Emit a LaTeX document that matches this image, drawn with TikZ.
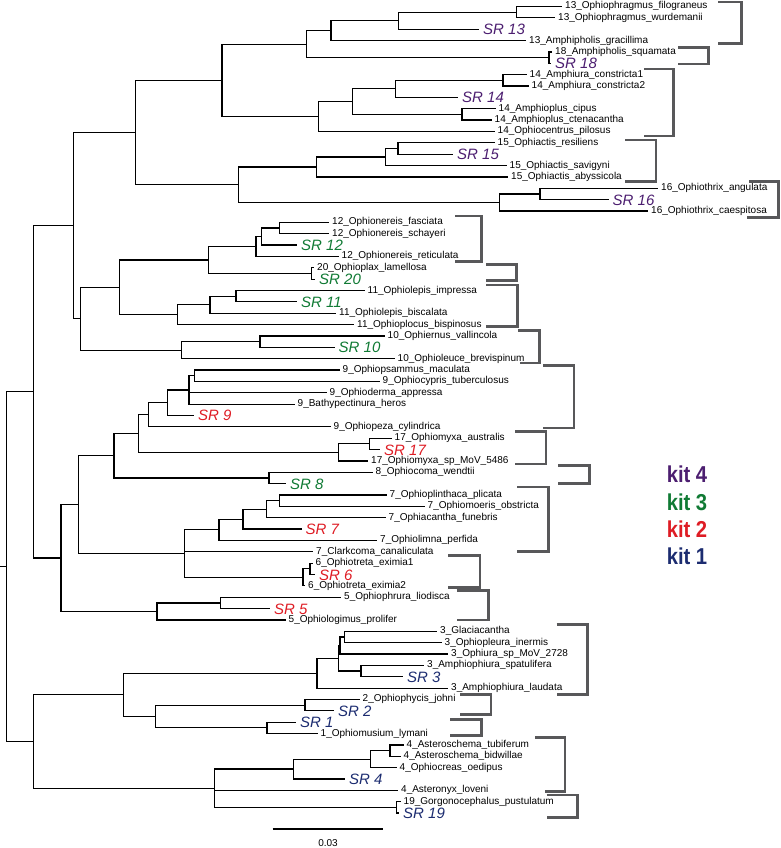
\documentclass[tikz,border=0pt]{standalone}
\usepackage{fontspec}
\setmainfont{Liberation Sans}
\newfontfamily\kitfont{Liberation Sans}[FakeStretch = 0.88]

\definecolor{kitfour}{RGB}{76,30,112}
\definecolor{kitthree}{RGB}{16,122,52}
\definecolor{kittwo}{RGB}{222,28,36}
\definecolor{kitone}{RGB}{28,44,112}
\definecolor{bracketgray}{RGB}{88,88,90}

% vertical position of tip number #1 (fractional for inner nodes)
\newcommand{\ly}[1]{6.5 + (#1 - 1) * 11.36}

\tikzset{
	branch/.style = {line width = 1.2pt, black},
	taxon/.style = {anchor = west, inner xsep = 3pt, inner ysep = 0pt, font = \fontsize{10}{10}\selectfont, text height = 7pt, text depth = 2pt},
	srlabel/.style = {anchor = west, inner xsep = 4pt, inner ysep = 0pt, font = \fontsize{15}{15}\selectfont\itshape, text height = 11pt, text depth = 0pt},
	kitlabel/.style = {inner sep = 0pt, font = \kitfont\bfseries\fontsize{23}{23}\selectfont},
	bracket/.style = {line width = 2.8pt, bracketgray}
}

\begin{document}
\begin{tikzpicture}[x = 1pt, y = -1pt]

	\useasboundingbox (0, 0) rectangle (780, 848);

	% Backbone
	
	\coordinate (rootstub) at (0, {\ly{50.31}});
	\coordinate (root) at (6.8, {\ly{50.31}});
	\coordinate (A) at (33.3, {\ly{34.92}});
	\coordinate (Z) at (33.3, {\ly{65.70}});
	\coordinate (B) at (73.6, {\ly{20.29}});
	\coordinate (C) at (61.0, {\ly{49.55}});
	\coordinate (D) at (135.5, {\ly{12.09}});
	\coordinate (E) at (80.3, {\ly{28.48}});
	
	\draw [branch] (rootstub) -- (root) (root) |- (A) (root) |- (Z);
	\draw [branch] (A) |- (B) (A) |- (C) (B) |- (D) (B) |- (E);
	
	% Kit 4 clade, inner nodes
	
	\coordinate (F) at (222.0, {\ly{7.5}});
	\coordinate (G) at (238.5, {\ly{16.6875}});
	\coordinate (H) at (306.5, {\ly{4.3125}});
	\coordinate (I) at (318.4, {\ly{10.6875}});
	\coordinate (J) at (331.0, {\ly{3.125}});
	\coordinate (L) at (398.5, {\ly{2.25}});
	\coordinate (M) at (516.5, {\ly{1.5}});
	\coordinate (K18) at (549.0, {\ly{5.5}});
	\coordinate (N) at (352.5, {\ly{9.375}});
	\coordinate (O) at (395.5, {\ly{8.25}});
	\coordinate (P) at (462.0, {\ly{10.5}});
	\coordinate (Q) at (503.0, {\ly{7.5}});
	\coordinate (n15a) at (398.0, {\ly{13.5}});
	\coordinate (n15b) at (385.6, {\ly{14.25}});
	\coordinate (n15c) at (316.3, {\ly{15.125}});
	\coordinate (n16a) at (540.0, {\ly{17.5}});
	\coordinate (n16) at (499.5, {\ly{18.25}});
	
	% Kit 4 clade, tips
	
	\node [taxon] (filograneus) at (562, {\ly{1}}) {13\_Ophiophragmus\_filograneus};
	\node [taxon] (wurdemanii) at (555, {\ly{2}}) {13\_Ophiophragmus\_wurdemanii};
	\node [srlabel, text = kitfour] (sr13) at (479, {\ly{3}}) {SR 13};
	\node [taxon] (gracillima) at (526, {\ly{4}}) {13\_Amphipholis\_gracillima};
	\node [taxon] (squamata) at (552, {\ly{5}}) {18\_Amphipholis\_squamata};
	\node [srlabel, text = kitfour] (sr18) at (551, {\ly{6}}) {SR 18};
	\node [taxon] (constricta1) at (526.5, {\ly{7}}) {14\_Amphiura\_constricta1};
	\node [taxon] (constricta2) at (528.5, {\ly{8}}) {14\_Amphiura\_constricta2};
	\node [srlabel, text = kitfour] (sr14) at (458, {\ly{9}}) {SR 14};
	\node [taxon] (cipus) at (495.5, {\ly{10}}) {14\_Amphioplus\_cipus};
	\node [taxon] (ctenacantha) at (491.5, {\ly{11}}) {14\_Amphioplus\_ctenacantha};
	\node [taxon] (pilosus) at (494.5, {\ly{12}}) {14\_Ophiocentrus\_pilosus};
	\node [taxon] (resiliens) at (494.5, {\ly{13}}) {15\_Ophiactis\_resiliens};
	\node [srlabel, text = kitfour] (sr15) at (453, {\ly{14}}) {SR 15};
	\node [taxon] (savigyni) at (506.5, {\ly{15}}) {15\_Ophiactis\_savigyni};
	\node [taxon] (abyssicola) at (508, {\ly{16}}) {15\_Ophiactis\_abyssicola};
	\node [taxon] (angulata) at (658, {\ly{17}}) {16\_Ophiothrix\_angulata};
	\node [srlabel, text = kitfour] (sr16) at (608.5, {\ly{18}}) {SR 16};
	\node [taxon] (caespitosa) at (648, {\ly{19}}) {16\_Ophiothrix\_caespitosa};
	
	\draw [branch] (D) |- (F) (D) |- (G) (F) |- (H) (F) |- (I);
	\draw [branch] (H) |- (J) (H) |- (K18) (J) |- (L) (J) |- (gracillima);
	\draw [branch] (L) |- (M) (L) |- (sr13) (M) |- (filograneus) (M) |- (wurdemanii);
	\draw [branch] (K18) |- (squamata) (K18) |- (sr18);
	\draw [branch] (I) |- (N) (I) |- (pilosus) (N) |- (O) (N) |- (P);
	\draw [branch] (O) |- (Q) (O) |- (sr14) (Q) |- (constricta1) (Q) |- (constricta2);
	\draw [branch] (P) |- (cipus) (P) |- (ctenacantha);
	\draw [branch] (G) |- (n15c) (G) |- (n16) (n15c) |- (n15b) (n15c) |- (abyssicola);
	\draw [branch] (n15b) |- (n15a) (n15b) |- (savigyni) (n15a) |- (resiliens) (n15a) |- (sr15);
	\draw [branch] (n16) |- (n16a) (n16) |- (caespitosa) (n16a) |- (angulata) (n16a) |- (sr16);
	
	% Kit 3 clade
	
	\coordinate (n1211) at (119.4, {\ly{25.72}});
	\coordinate (n12d) at (208.2, {\ly{23.3125}});
	\coordinate (n12c) at (256.0, {\ly{22.125}});
	\coordinate (n12b) at (261.5, {\ly{21.25}});
	\coordinate (n12a) at (279.5, {\ly{20.5}});
	\coordinate (n20) at (311.5, {\ly{24.5}});
	\coordinate (n11c) at (177.8, {\ly{28.125}});
	\coordinate (n11b) at (210.0, {\ly{27.25}});
	\coordinate (n11a) at (236.0, {\ly{26.5}});
	\coordinate (n10b) at (181.7, {\ly{31.25}});
	\coordinate (n10a) at (260.0, {\ly{30.5}});
	
	\node [taxon] (fasciata) at (329, {\ly{20}}) {12\_Ophionereis\_fasciata};
	\node [taxon] (schayeri) at (329, {\ly{21}}) {12\_Ophionereis\_schayeri};
	\node [srlabel, text = kitthree] (sr12) at (297, {\ly{22}}) {SR 12};
	\node [taxon] (reticulata) at (338.5, {\ly{23}}) {12\_Ophionereis\_reticulata};
	\node [taxon] (lamellosa) at (314, {\ly{24}}) {20\_Ophioplax\_lamellosa};
	\node [srlabel, text = kitthree] (sr20) at (315, {\ly{25}}) {SR 20};
	\node [taxon] (impressa) at (364.5, {\ly{26}}) {11\_Ophiolepis\_impressa};
	\node [srlabel, text = kitthree] (sr11) at (297, {\ly{27}}) {SR 11};
	\node [taxon] (biscalata) at (336, {\ly{28}}) {11\_Ophiolepis\_biscalata};
	\node [taxon] (bispinosus) at (354, {\ly{29}}) {11\_Ophioplocus\_bispinosus};
	\node [taxon] (vallincola) at (384.5, {\ly{30}}) {10\_Ophiernus\_vallincola};
	\node [srlabel, text = kitthree] (sr10) at (334.5, {\ly{31}}) {SR 10};
	\node [taxon] (brevispinum) at (394.5, {\ly{32}}) {10\_Ophioleuce\_brevispinum};
	
	\draw [branch] (E) |- (n1211) (E) |- (n10b) (n1211) |- (n12d) (n1211) |- (n11c);
	\draw [branch] (n12d) |- (n12c) (n12d) |- (n20) (n12c) |- (n12b) (n12c) |- (reticulata);
	\draw [branch] (n12b) |- (n12a) (n12b) |- (sr12) (n12a) |- (fasciata) (n12a) |- (schayeri);
	\draw [branch] (n20) |- (lamellosa) (n20) |- (sr20);
	\draw [branch] (n11c) |- (n11b) (n11c) |- (bispinosus) (n11b) |- (n11a) (n11b) |- (biscalata);
	\draw [branch] (n11a) |- (impressa) (n11a) |- (sr11);
	\draw [branch] (n10b) |- (n10a) (n10b) |- (brevispinum) (n10a) |- (vallincola) (n10a) |- (sr10);
	
	% Kit 2 clade and its neighbours
	
	\coordinate (n987) at (78.2, {\ly{44.85}});
	\coordinate (n98) at (114.0, {\ly{40.547}});
	\coordinate (n9e) at (138.3, {\ly{38.594}});
	\coordinate (n9d) at (148.7, {\ly{36.9375}});
	\coordinate (n9c) at (167.5, {\ly{35.875}});
	\coordinate (n9b) at (189.0, {\ly{34.75}});
	\coordinate (n9a) at (194.3, {\ly{33.5}});
	\coordinate (n17b) at (338.3, {\ly{40.25}});
	\coordinate (n17a) at (369.3, {\ly{39.5}});
	\coordinate (n8) at (269.0, {\ly{42.5}});
	\coordinate (n76) at (184.3, {\ly{49.156}});
	\coordinate (n7d) at (219.0, {\ly{47.0625}});
	\coordinate (n7c) at (243.0, {\ly{46.125}});
	\coordinate (n7b) at (266.5, {\ly{45.25}});
	\coordinate (n7a) at (279.5, {\ly{44.5}});
	\coordinate (n6b) at (303.0, {\ly{51.25}});
	\coordinate (n6a) at (310.0, {\ly{50.5}});
	\coordinate (n5b) at (157.0, {\ly{54.25}});
	\coordinate (n5a) at (220.6, {\ly{53.5}});
	
	\node [taxon] (maculata) at (339.5, {\ly{33}}) {9\_Ophiopsammus\_maculata};
	\node [taxon] (tuberculosus) at (379.5, {\ly{34}}) {9\_Ophiocypris\_tuberculosus};
	\node [taxon] (appressa) at (326.5, {\ly{35}}) {9\_Ophioderma\_appressa};
	\node [taxon] (heros) at (294.5, {\ly{36}}) {9\_Bathypectinura\_heros};
	\node [srlabel, text = kittwo] (sr9) at (194, {\ly{37}}) {SR 9};
	\node [taxon] (cylindrica) at (330.5, {\ly{38}}) {9\_Ophiopeza\_cylindrica};
	\node [taxon] (australis) at (391.5, {\ly{39}}) {17\_Ophiomyxa\_australis};
	\node [srlabel, text = kittwo] (sr17) at (380, {\ly{40}}) {SR 17};
	\node [taxon] (mov5486) at (368, {\ly{41}}) {17\_Ophiomyxa\_sp\_MoV\_5486};
	\node [taxon] (wendtii) at (372.5, {\ly{42}}) {8\_Ophiocoma\_wendtii};
	\node [srlabel, text = kitthree] (sr8) at (286, {\ly{43}}) {SR 8};
	\node [taxon] (plicata) at (386.5, {\ly{44}}) {7\_Ophioplinthaca\_plicata};
	\node [taxon] (obstricta) at (424.5, {\ly{45}}) {7\_Ophiomoeris\_obstricta};
	\node [taxon] (funebris) at (385.5, {\ly{46}}) {7\_Ophiacantha\_funebris};
	\node [srlabel, text = kittwo] (sr7) at (301.5, {\ly{47}}) {SR 7};
	\node [taxon] (perfida) at (377, {\ly{48}}) {7\_Ophiolimna\_perfida};
	\node [taxon] (clarkcoma) at (313, {\ly{49}}) {7\_Clarkcoma\_canaliculata};
	\node [taxon] (eximia1) at (312.5, {\ly{50}}) {6\_Ophiotreta\_eximia1};
	\node [srlabel, text = kittwo] (sr6) at (315, {\ly{51}}) {SR 6};
	\node [taxon] (eximia2) at (305, {\ly{52}}) {6\_Ophiotreta\_eximia2};
	\node [taxon] (liodisca) at (341, {\ly{53}}) {5\_Ophiophrura\_liodisca};
	\node [srlabel, text = kittwo] (sr5) at (270, {\ly{54}}) {SR 5};
	\node [taxon] (prolifer) at (285.5, {\ly{55}}) {5\_Ophiologimus\_prolifer};
	
	\draw [branch] (C) |- (n987) (C) |- (n5b) (n987) |- (n98) (n987) |- (n76);
	\draw [branch] (n98) |- (n9e) (n98) |- (n8) (n9e) |- (n9d) (n9e) |- (n17b);
	\draw [branch] (n9d) |- (n9c) (n9d) |- (cylindrica) (n9c) |- (n9b) (n9c) |- (sr9);
	\draw [branch] (n9b) |- (n9a) (n9b) |- (appressa) (n9b) |- (heros);
	\draw [branch] (n9a) |- (maculata) (n9a) |- (tuberculosus);
	\draw [branch] (n17b) |- (n17a) (n17b) |- (mov5486) (n17a) |- (australis) (n17a) |- (sr17);
	\draw [branch] (n8) |- (wendtii) (n8) |- (sr8);
	\draw [branch] (n76) |- (n7d) (n76) |- (clarkcoma) (n76) |- (n6b);
	\draw [branch] (n7d) |- (n7c) (n7d) |- (perfida) (n7c) |- (n7b) (n7c) |- (sr7);
	\draw [branch] (n7b) |- (n7a) (n7b) |- (funebris) (n7a) |- (plicata) (n7a) |- (obstricta);
	\draw [branch] (n6b) |- (n6a) (n6b) |- (eximia2) (n6a) |- (eximia1) (n6a) |- (sr6);
	\draw [branch] (n5b) |- (n5a) (n5b) |- (prolifer) (n5a) |- (liodisca) (n5a) |- (sr5);
	
	% Kit 1 clade
	
	\coordinate (n321) at (123.8, {\ly{61.594}});
	\coordinate (n3e) at (317.0, {\ly{59.6875}});
	\coordinate (n3d) at (338.3, {\ly{58.375}});
	\coordinate (n3b) at (340.0, {\ly{57.25}});
	\coordinate (n3a) at (344.6, {\ly{56.5}});
	\coordinate (n3c) at (361.0, {\ly{59.5}});
	\coordinate (n21) at (155.4, {\ly{63.5}});
	\coordinate (n2a) at (305.0, {\ly{62.5}});
	\coordinate (n1a) at (267.0, {\ly{64.5}});
	\coordinate (n4d) at (214.2, {\ly{69.8125}});
	\coordinate (n4c) at (293.4, {\ly{68.125}});
	\coordinate (n4b) at (370.6, {\ly{67.25}});
	\coordinate (n4a) at (390.0, {\ly{66.5}});
	\coordinate (n19) at (396.5, {\ly{71.5}});
	
	\node [taxon] (glaciacantha) at (437, {\ly{56}}) {3\_Glaciacantha};
	\node [taxon] (inermis) at (441.5, {\ly{57}}) {3\_Ophiopleura\_inermis};
	\node [taxon] (ophiura) at (448, {\ly{58}}) {3\_Ophiura\_sp\_MoV\_2728};
	\node [taxon] (spatulifera) at (424, {\ly{59}}) {3\_Amphiophiura\_spatulifera};
	\node [srlabel, text = kitone] (sr3) at (403, {\ly{60}}) {SR 3};
	\node [taxon] (laudata) at (448, {\ly{61}}) {3\_Amphiophiura\_laudata};
	\node [taxon] (johni) at (359.5, {\ly{62}}) {2\_Ophiophycis\_johni};
	\node [srlabel, text = kitone] (sr2) at (334, {\ly{63}}) {SR 2};
	\node [srlabel, text = kitone] (sr1) at (296, {\ly{64}}) {SR 1};
	\node [taxon] (lymani) at (317.5, {\ly{65}}) {1\_Ophiomusium\_lymani};
	\node [taxon] (tubiferum) at (403.5, {\ly{66}}) {4\_Asteroschema\_tubiferum};
	\node [taxon] (bidwillae) at (400.5, {\ly{67}}) {4\_Asteroschema\_bidwillae};
	\node [taxon] (oedipus) at (396.5, {\ly{68}}) {4\_Ophiocreas\_oedipus};
	\node [srlabel, text = kitone] (sr4) at (345, {\ly{69}}) {SR 4};
	\node [taxon] (loveni) at (398, {\ly{70}}) {4\_Asteronyx\_loveni};
	\node [taxon] (gorgonocephalus) at (400.5, {\ly{71}}) {19\_Gorgonocephalus\_pustulatum};
	\node [srlabel, text = kitone] (sr19) at (399, {\ly{72}}) {SR 19};
	
	\draw [branch] (Z) |- (n321) (Z) |- (n4d) (n321) |- (n3e) (n321) |- (n21);
	\draw [branch] (n3e) |- (n3d) (n3e) |- (laudata) (n3d) |- (n3b) (n3d) |- (n3c);
	\draw [branch] (n3b) |- (n3a) (n3b) |- (ophiura) (n3a) |- (glaciacantha) (n3a) |- (inermis);
	\draw [branch] (n3c) |- (spatulifera) (n3c) |- (sr3);
	\draw [branch] (n21) |- (n2a) (n21) |- (n1a) (n2a) |- (johni) (n2a) |- (sr2);
	\draw [branch] (n1a) |- (sr1) (n1a) |- (lymani);
	\draw [branch] (n4d) |- (n4c) (n4d) |- (loveni) (n4d) |- (n19);
	\draw [branch] (n4c) |- (n4b) (n4c) |- (sr4) (n4b) |- (n4a) (n4b) |- (oedipus);
	\draw [branch] (n4a) |- (tubiferum) (n4a) |- (bidwillae);
	\draw [branch] (n19) |- (gorgonocephalus) (n19) |- (sr19);
	
	% Group brackets
	
	\draw [bracket] (718, 2) -- (741.5, 2) -- (741.5, 43.3) -- (718, 43.3);
	\draw [bracket] (678.3, 47.7) -- (708.3, 47.7) -- (708.3, 64) -- (678.3, 64);
	\draw [bracket] (644.3, 69) -- (673.3, 69) -- (673.3, 136) -- (644.3, 136);
	\draw [bracket] (625, 140) -- (656, 140) -- (656, 181.7) -- (625, 181.7);
	\draw [bracket] (749, 181.7) -- (778.5, 181.7) -- (778.5, 217.3) -- (746.7, 217.3);
	\draw [bracket] (455, 216) -- (481.7, 216) -- (481.7, 261.5) -- (455, 261.5);
	\draw [bracket] (486, 264.7) -- (516.7, 264.7) -- (516.7, 280.5) -- (486, 280.5);
	\draw [bracket] (486, 285) -- (517.3, 285) -- (517.3, 326.5) -- (486, 326.5);
	\draw [bracket] (518.3, 330.7) -- (539.5, 330.7) -- (539.5, 363) -- (520, 363);
	\draw [bracket] (543.3, 365.7) -- (574, 365.7) -- (574, 428) -- (543.3, 428);
	\draw [bracket] (515, 431.3) -- (546, 431.3) -- (546, 464) -- (515, 464);
	\draw [bracket] (558.3, 465.7) -- (589.3, 465.7) -- (589.3, 483.7) -- (558.3, 483.7);
	\draw [bracket] (517.3, 487) -- (548.3, 487) -- (548.3, 551.3) -- (517.3, 551.3);
	\draw [bracket] (448.3, 555.5) -- (480, 555.5) -- (480, 587.7) -- (448.3, 587.7);
	\draw [bracket] (456.7, 590.5) -- (488.3, 590.5) -- (488.3, 620) -- (456.7, 620);
	\draw [bracket] (556.7, 624.3) -- (587.3, 624.3) -- (587.3, 694.3) -- (556.7, 694.3);
	\draw [bracket] (460, 694.3) -- (491, 694.3) -- (491, 714.3) -- (460, 714.3);
	\draw [bracket] (450, 719.3) -- (481.7, 719.3) -- (481.7, 735.3) -- (450, 735.3);
	\draw [bracket] (535, 737.7) -- (565, 737.7) -- (565, 791.7) -- (545, 791.7);
	\draw [bracket] (546.7, 795) -- (577.3, 795) -- (577.3, 817.7) -- (546.7, 817.7);
	
	% Legend
	
	\node [kitlabel, text = kitfour] (kit4) at (687, 474.7) {kit 4};
	\node [kitlabel, text = kitthree] (kit3) at (687, 502) {kit 3};
	\node [kitlabel, text = kittwo] (kit2) at (687, 529.7) {kit 2};
	\node [kitlabel, text = kitone] (kit1) at (687, 556.3) {kit 1};
	
	% Scale bar
	
	\coordinate (barleft) at (272.7, 829);
	\coordinate (barright) at (383, 829);
	\draw [branch] (barleft) -- (barright);
	\node [font = \fontsize{10}{10}\selectfont] (barlabel) at (328, 843) {0.03};

\end{tikzpicture}
\end{document}
